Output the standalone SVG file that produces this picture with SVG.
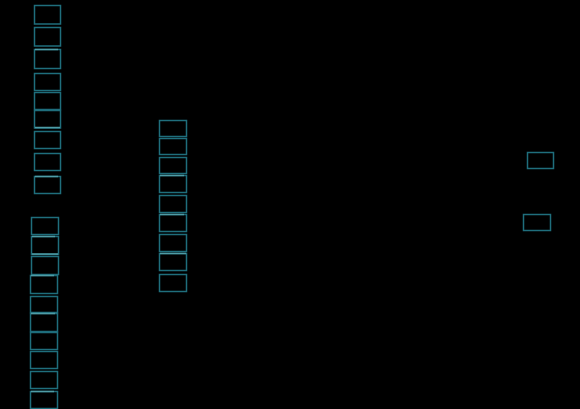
<svg xmlns="http://www.w3.org/2000/svg" width="580" height="409" viewBox="0 0 580 409">
<style>
.b{fill:none;stroke:#1f6e7c;stroke-width:1.5}
.h{stroke:#4f9ca6;stroke-width:1.5}
</style>
<rect x="0" y="0" width="580" height="409" fill="#000"/>
<g id="connectors"></g>
<g id="col1">
<g id="n1"><rect class="b" x="34.5" y="5.5" width="26" height="18.5"/></g>
<g id="n2"><rect class="b" x="34.5" y="27.5" width="26" height="18.5"/></g>
<g id="n3"><rect class="b" x="34.5" y="49.5" width="26" height="19"/><line class="h" x1="35" y1="49.5" x2="58" y2="49.5" stroke="#7a9a9e"/></g>
<g id="n4"><rect class="b" x="34.5" y="73.5" width="26" height="17"/></g>
<g id="n5"><rect class="b" x="34.5" y="92.5" width="26" height="17"/></g>
<g id="n6"><rect class="b" x="34.5" y="110.5" width="26" height="17.5"/><line class="h" x1="35" y1="127.5" x2="60" y2="127.5"/></g>
<g id="n7"><rect class="b" x="34.5" y="131.5" width="26" height="17"/></g>
<g id="n8"><rect class="b" x="34.5" y="153.5" width="26" height="17"/></g>
<g id="n9"><rect class="b" x="34.5" y="176.5" width="26" height="17"/><line class="h" x1="35" y1="176.5" x2="58" y2="176.5"/></g>
</g>
<g id="col2">
<g id="m1"><rect class="b" x="31.5" y="217.5" width="27" height="17"/></g>
<g id="m2"><rect class="b" x="31.5" y="236.5" width="27" height="18"/><line class="h" x1="32" y1="236.5" x2="55" y2="236.5"/><line class="h" x1="32" y1="254" x2="58" y2="254"/></g>
<g id="m3"><rect class="b" x="31.5" y="256.5" width="27" height="18"/></g>
<g id="m4"><rect class="b" x="30.5" y="275.5" width="27" height="18"/><line class="h" x1="31" y1="275.5" x2="54" y2="275.5"/></g>
<g id="m5"><rect class="b" x="30.5" y="296.5" width="27" height="16"/></g>
<g id="m6"><rect class="b" x="30.5" y="313.5" width="27" height="18"/><line class="h" x1="31" y1="313.5" x2="55" y2="313.5" stroke="#6fb0b8"/></g>
<g id="m7"><rect class="b" x="30.5" y="332.5" width="27" height="17"/></g>
<g id="m8"><rect class="b" x="30.5" y="351.5" width="27" height="17"/></g>
<g id="m9"><rect class="b" x="30.5" y="371.5" width="27" height="17"/></g>
<g id="m10"><rect class="b" x="30.5" y="391.5" width="27" height="17"/><line class="h" x1="31" y1="391.5" x2="54" y2="391.5"/></g>
</g>
<g id="col3">
<g id="k1"><rect class="b" x="159.5" y="120.5" width="27" height="16"/></g>
<g id="k2"><rect class="b" x="159.5" y="138.5" width="27" height="16"/></g>
<g id="k3"><rect class="b" x="159.5" y="157.5" width="27" height="16"/></g>
<g id="k4"><rect class="b" x="159.5" y="175.5" width="27" height="17"/><line class="h" x1="160" y1="175.5" x2="184" y2="175.5"/></g>
<g id="k5"><rect class="b" x="159.5" y="195.5" width="27" height="17"/></g>
<g id="k6"><rect class="b" x="159.5" y="214.5" width="27" height="17"/><line class="h" x1="160" y1="214.5" x2="184" y2="214.5" stroke="#4fa8b2"/></g>
<g id="k7"><rect class="b" x="159.5" y="234.5" width="27" height="17"/></g>
<g id="k8"><rect class="b" x="159.5" y="253.5" width="27" height="17"/><line class="h" x1="160" y1="253.5" x2="186" y2="253.5"/></g>
<g id="k9"><rect class="b" x="159.5" y="274.5" width="27" height="17"/></g>
</g>
<g id="right">
<g id="r1"><rect class="b" x="527.5" y="152.5" width="26" height="16"/></g>
<g id="r2"><rect class="b" x="523.5" y="214.5" width="27" height="16"/></g>
</g>
</svg>
